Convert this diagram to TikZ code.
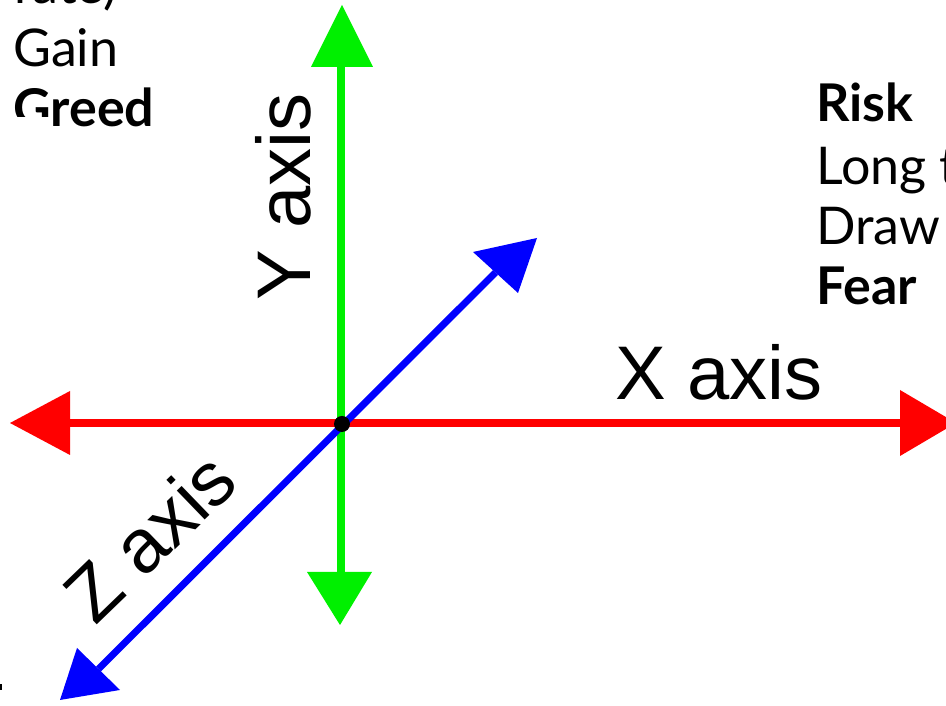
\documentclass[tikz,border=0pt]{standalone}
\usepackage{fontspec}
\setmainfont{Lato}
\newfontfamily\axisfont{Liberation Sans}
\definecolor{axred}{RGB}{255,0,0}
\definecolor{axgreen}{RGB}{0,240,0}
\definecolor{axblue}{RGB}{0,0,255}
\begin{document}
\begin{tikzpicture}[x=1pt,y=1pt,
  axlbl/.style={font=\axisfont\fontsize{76}{80}\selectfont, inner sep=0pt, anchor=base},
  side/.style={font=\fontsize{52}{60}\selectfont, inner sep=0pt, anchor=base west},
  sideb/.style={side, font=\fontsize{52}{60}\selectfont\bfseries},
  redax/.style={axred, line width=8pt},
  greenax/.style={axgreen, line width=8pt},
  blueax/.style={axblue, line width=7pt}]
\useasboundingbox (0,0) rectangle (946,706);
\clip (0,0) rectangle (946,706);

% side texts
\node[side] (rate) at (14,702) {rate)};
\node[side] (gain) at (13,639) {Gain};
\node[sideb] (greed) at (13,579) {Greed};
\fill[white] (0,568) rectangle (52,589);
\node[sideb] (risk) at (816,584) {Risk};
\node[side] (long) at (816,521) {Long t};
\node[side] (draw) at (816,461) {Draw};
\node[sideb] (fear) at (816,401) {Fear};
\fill[black] (0,16) rectangle (2,22);

% coordinates
\coordinate (O) at (342,282);
\coordinate (xl) at (70,283);
\coordinate (xr) at (900,283);
\coordinate (yb) at (341,134);
\coordinate (yt) at (341,639);
\coordinate (zb) at (98.5,37);
\coordinate (zt) at (495.5,433.5);

% X axis
\draw[redax] (xl) -- (xr);
\fill[axred] (10,283) -- (70,315) -- (70,251) -- cycle;
\fill[axred] (956,283) -- (900,316) -- (900,250) -- cycle;

% Y axis
\draw[greenax] (yb) -- (yt);
\fill[axgreen] (342,701) -- (311,639) -- (373,639) -- cycle;
\fill[axgreen] (340,81) -- (307,134) -- (372,134) -- cycle;

% Z axis
\draw[blueax] (zb) -- (zt);
\fill[axblue] (537,468) -- (473,454) -- (518,413) -- cycle;
\fill[axblue] (60,6) -- (77,58) -- (120,16) -- cycle;

% origin
\fill[black] (O) circle (8);

% labels
\node[axlbl] (xlab) at (719,306) {X axis};
\node[axlbl, rotate=90] (ylab) at (310,509) {Y axis};
\node[axlbl, rotate=44] (zlab) at (168,150) {Z axis};
\end{tikzpicture}
\end{document}
